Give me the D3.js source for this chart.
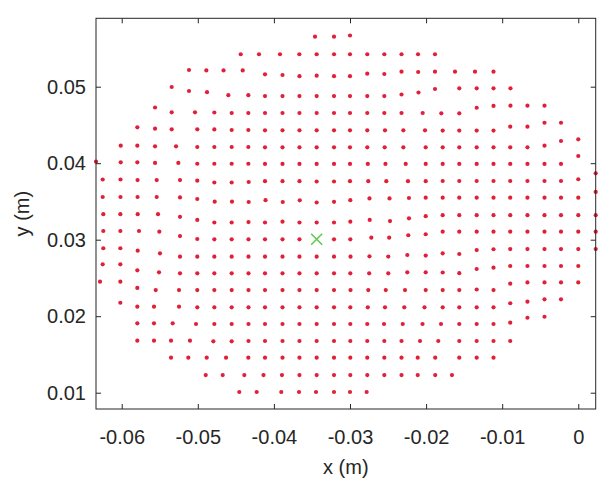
<!DOCTYPE html>
<html><head><meta charset="utf-8">
<script src="https://cdn.jsdelivr.net/npm/d3@7"></script>
<style>html,body{margin:0;padding:0;background:#fff}svg{display:block}</style>
</head><body>
<script>
const xTicks = [-0.06, -0.05, -0.04, -0.03, -0.02, -0.01, 0];
const yTicks = [0.01, 0.02, 0.03, 0.04, 0.05];
const xDomain = [-0.06338, 0.00229];
const yDomain = [0.00787, 0.05894];
const xLabel = "x (m)";
const yLabel = "y (m)";
const centerPoint = [-0.03438, 0.03005];

const row01 = [[-0.03460,0.05654],[-0.03210,0.05654],[-0.03000,0.05669]];
const row02 = [[-0.04436,0.05424],[-0.04196,0.05424],[-0.03920,0.05424],[-0.03666,0.05424],[-0.03438,0.05424],[-0.03210,0.05424],[-0.03000,0.05424],[-0.02773,0.05424],[-0.02549,0.05424],[-0.02323,0.05424],[-0.02106,0.05424],[-0.01883,0.05424]];
const row03 = [[-0.05116,0.05218],[-0.04888,0.05212],[-0.04662,0.05212],[-0.04410,0.05212],[-0.04117,0.05162],[-0.03887,0.05153],[-0.03664,0.05137],[-0.03438,0.05144],[-0.03210,0.05137],[-0.03000,0.05137],[-0.02773,0.05170],[-0.02549,0.05166],[-0.02323,0.05196],[-0.02104,0.05192],[-0.01883,0.05196],[-0.01620,0.05196],[-0.01357,0.05196],[-0.01114,0.05196]];
const row04 = [[-0.05343,0.04996],[-0.05116,0.04944],[-0.04879,0.04928],[-0.04599,0.04889],[-0.04336,0.04889],[-0.04117,0.04878],[-0.03887,0.04878],[-0.03664,0.04878],[-0.03438,0.04878],[-0.03210,0.04878],[-0.03000,0.04878],[-0.02773,0.04878],[-0.02549,0.04878],[-0.02323,0.04898],[-0.02100,0.04924],[-0.01883,0.04970],[-0.01564,0.04979],[-0.01335,0.04979],[-0.01114,0.04979],[-0.00891,0.04979]];
const row05 = [[-0.05562,0.04728],[-0.05343,0.04665],[-0.05037,0.04665],[-0.04783,0.04663],[-0.04555,0.04656],[-0.04336,0.04656],[-0.04117,0.04656],[-0.03887,0.04656],[-0.03664,0.04656],[-0.03438,0.04656],[-0.03210,0.04656],[-0.03000,0.04656],[-0.02773,0.04656],[-0.02549,0.04656],[-0.02323,0.04656],[-0.02045,0.04656],[-0.01800,0.04652],[-0.01564,0.04652],[-0.01335,0.04725],[-0.01114,0.04748],[-0.00891,0.04752],[-0.00668,0.04752],[-0.00444,0.04752]];
const row06 = [[-0.05795,0.04469],[-0.05562,0.04451],[-0.05343,0.04443],[-0.05007,0.04443],[-0.04783,0.04441],[-0.04555,0.04434],[-0.04336,0.04434],[-0.04117,0.04430],[-0.03887,0.04430],[-0.03664,0.04430],[-0.03438,0.04430],[-0.03210,0.04430],[-0.03000,0.04430],[-0.02773,0.04430],[-0.02540,0.04430],[-0.02299,0.04430],[-0.02014,0.04430],[-0.01782,0.04427],[-0.01564,0.04427],[-0.01335,0.04427],[-0.01114,0.04427],[-0.00894,0.04477],[-0.00668,0.04477],[-0.00444,0.04529],[-0.00227,0.04529]];
const row07 = [[-0.06013,0.04229],[-0.05795,0.04229],[-0.05562,0.04221],[-0.05286,0.04221],[-0.05007,0.04212],[-0.04783,0.04212],[-0.04555,0.04212],[-0.04336,0.04212],[-0.04117,0.04208],[-0.03887,0.04208],[-0.03664,0.04208],[-0.03438,0.04208],[-0.03210,0.04208],[-0.03000,0.04208],[-0.02773,0.04208],[-0.02544,0.04208],[-0.02299,0.04208],[-0.02005,0.04208],[-0.01782,0.04208],[-0.01564,0.04208],[-0.01335,0.04208],[-0.01114,0.04208],[-0.00894,0.04208],[-0.00668,0.04208],[-0.00444,0.04229],[-0.00227,0.04290],[0.00000,0.04312]];
const row08 = [[-0.06338,0.04020],[-0.06013,0.04012],[-0.05795,0.04012],[-0.05562,0.04003],[-0.05256,0.04003],[-0.05007,0.03993],[-0.04783,0.03993],[-0.04555,0.03993],[-0.04336,0.03993],[-0.04117,0.03990],[-0.03887,0.03990],[-0.03664,0.03990],[-0.03438,0.03990],[-0.03210,0.03990],[-0.03000,0.03990],[-0.02766,0.03990],[-0.02534,0.03990],[-0.02268,0.03990],[-0.02005,0.03990],[-0.01782,0.03990],[-0.01564,0.03990],[-0.01335,0.03990],[-0.01114,0.03990],[-0.00894,0.03990],[-0.00668,0.03990],[-0.00444,0.03990],[-0.00227,0.03990],[0.00000,0.04094]];
const row09 = [[-0.06250,0.03787],[-0.06016,0.03787],[-0.05792,0.03780],[-0.05540,0.03780],[-0.05234,0.03780],[-0.05007,0.03771],[-0.04783,0.03748],[-0.04555,0.03748],[-0.04331,0.03754],[-0.04117,0.03765],[-0.03887,0.03765],[-0.03664,0.03765],[-0.03438,0.03761],[-0.03210,0.03761],[-0.03000,0.03765],[-0.02760,0.03765],[-0.02523,0.03765],[-0.02238,0.03765],[-0.02005,0.03765],[-0.01782,0.03767],[-0.01564,0.03767],[-0.01335,0.03767],[-0.01114,0.03767],[-0.00894,0.03767],[-0.00668,0.03767],[-0.00444,0.03767],[-0.00227,0.03767],[0.00000,0.03790],[0.00229,0.03868]];
const row10 = [[-0.06250,0.03558],[-0.06016,0.03558],[-0.05792,0.03558],[-0.05540,0.03558],[-0.05234,0.03552],[-0.05007,0.03532],[-0.04778,0.03497],[-0.04551,0.03497],[-0.04331,0.03493],[-0.04110,0.03516],[-0.03884,0.03493],[-0.03660,0.03515],[-0.03438,0.03486],[-0.03210,0.03495],[-0.02996,0.03516],[-0.02744,0.03539],[-0.02481,0.03539],[-0.02225,0.03545],[-0.02005,0.03549],[-0.01782,0.03549],[-0.01564,0.03549],[-0.01335,0.03549],[-0.01114,0.03549],[-0.00894,0.03549],[-0.00668,0.03549],[-0.00444,0.03549],[-0.00227,0.03549],[0.00000,0.03549],[0.00229,0.03624]];
const row11 = [[-0.06242,0.03333],[-0.06018,0.03333],[-0.05790,0.03333],[-0.05523,0.03333],[-0.05234,0.03299],[-0.05007,0.03258],[-0.04783,0.03225],[-0.04555,0.03225],[-0.04334,0.03231],[-0.04117,0.03225],[-0.03887,0.03235],[-0.03664,0.03225],[-0.03438,0.03225],[-0.03210,0.03225],[-0.02996,0.03235],[-0.02741,0.03258],[-0.02474,0.03244],[-0.02225,0.03280],[-0.02005,0.03307],[-0.01782,0.03320],[-0.01564,0.03320],[-0.01335,0.03320],[-0.01114,0.03320],[-0.00894,0.03320],[-0.00668,0.03320],[-0.00444,0.03320],[-0.00227,0.03320],[0.00000,0.03320],[0.00229,0.03320]];
const row12 = [[-0.06242,0.03114],[-0.06018,0.03114],[-0.05773,0.03114],[-0.05506,0.03105],[-0.05234,0.03048],[-0.05007,0.03009],[-0.04783,0.03005],[-0.04555,0.03005],[-0.04334,0.03005],[-0.04117,0.03005],[-0.03887,0.03005],[-0.03664,0.03005],[-0.03210,0.03005],[-0.02996,0.03005],[-0.02720,0.03026],[-0.02485,0.03026],[-0.02234,0.03058],[-0.02005,0.03071],[-0.01782,0.03105],[-0.01564,0.03105],[-0.01335,0.03105],[-0.01114,0.03105],[-0.00894,0.03105],[-0.00668,0.03105],[-0.00444,0.03105],[-0.00227,0.03105],[0.00000,0.03105],[0.00229,0.03105]];
const row13 = [[-0.06242,0.02888],[-0.06018,0.02888],[-0.05790,0.02856],[-0.05497,0.02822],[-0.05234,0.02778],[-0.05007,0.02778],[-0.04783,0.02778],[-0.04555,0.02778],[-0.04334,0.02778],[-0.04117,0.02778],[-0.03887,0.02778],[-0.03664,0.02778],[-0.03438,0.02778],[-0.03210,0.02778],[-0.02993,0.02778],[-0.02744,0.02783],[-0.02497,0.02780],[-0.02247,0.02800],[-0.02005,0.02793],[-0.01782,0.02822],[-0.01564,0.02813],[-0.01335,0.02865],[-0.01114,0.02875],[-0.00894,0.02878],[-0.00668,0.02878],[-0.00444,0.02878],[-0.00227,0.02878],[0.00000,0.02878],[0.00229,0.02878]];
const row14 = [[-0.06250,0.02678],[-0.06018,0.02678],[-0.05795,0.02600],[-0.05510,0.02574],[-0.05234,0.02561],[-0.05007,0.02561],[-0.04783,0.02561],[-0.04555,0.02561],[-0.04334,0.02561],[-0.04117,0.02561],[-0.03887,0.02561],[-0.03664,0.02561],[-0.03438,0.02561],[-0.03210,0.02561],[-0.02996,0.02561],[-0.02748,0.02561],[-0.02497,0.02561],[-0.02247,0.02574],[-0.02005,0.02574],[-0.01782,0.02571],[-0.01564,0.02562],[-0.01335,0.02617],[-0.01114,0.02634],[-0.00894,0.02656],[-0.00668,0.02656],[-0.00444,0.02656],[-0.00227,0.02656],[0.00000,0.02656]];
const row15 = [[-0.06285,0.02451],[-0.06018,0.02451],[-0.05795,0.02369],[-0.05553,0.02342],[-0.05247,0.02342],[-0.05007,0.02342],[-0.04783,0.02342],[-0.04555,0.02342],[-0.04334,0.02342],[-0.04117,0.02342],[-0.03887,0.02342],[-0.03664,0.02342],[-0.03438,0.02342],[-0.03210,0.02342],[-0.02993,0.02342],[-0.02760,0.02342],[-0.02530,0.02342],[-0.02277,0.02342],[-0.02005,0.02342],[-0.01782,0.02342],[-0.01564,0.02342],[-0.01335,0.02349],[-0.01114,0.02342],[-0.00894,0.02425],[-0.00668,0.02441],[-0.00444,0.02441],[-0.00227,0.02441],[0.00000,0.02441]];
const row16 = [[-0.06018,0.02176],[-0.05795,0.02124],[-0.05576,0.02124],[-0.05247,0.02124],[-0.05007,0.02116],[-0.04783,0.02116],[-0.04555,0.02116],[-0.04334,0.02116],[-0.04117,0.02116],[-0.03887,0.02116],[-0.03664,0.02116],[-0.03438,0.02116],[-0.03210,0.02116],[-0.02996,0.02116],[-0.02766,0.02116],[-0.02540,0.02116],[-0.02287,0.02116],[-0.02021,0.02116],[-0.01782,0.02116],[-0.01564,0.02116],[-0.01335,0.02116],[-0.01114,0.02116],[-0.00894,0.02169],[-0.00668,0.02190],[-0.00444,0.02221],[-0.00227,0.02221]];
const row17 = [[-0.05795,0.01907],[-0.05576,0.01907],[-0.05330,0.01907],[-0.05024,0.01898],[-0.04783,0.01898],[-0.04555,0.01898],[-0.04334,0.01898],[-0.04117,0.01898],[-0.03887,0.01898],[-0.03664,0.01898],[-0.03438,0.01898],[-0.03210,0.01898],[-0.02996,0.01898],[-0.02773,0.01898],[-0.02553,0.01898],[-0.02307,0.01898],[-0.02047,0.01898],[-0.01804,0.01898],[-0.01564,0.01898],[-0.01335,0.01898],[-0.01114,0.01898],[-0.00894,0.01915],[-0.00668,0.01980],[-0.00444,0.01993]];
const row18 = [[-0.05795,0.01680],[-0.05576,0.01680],[-0.05352,0.01680],[-0.05103,0.01680],[-0.04796,0.01672],[-0.04555,0.01672],[-0.04334,0.01676],[-0.04117,0.01676],[-0.03887,0.01676],[-0.03664,0.01676],[-0.03438,0.01676],[-0.03210,0.01676],[-0.02996,0.01676],[-0.02773,0.01676],[-0.02549,0.01676],[-0.02323,0.01676],[-0.02080,0.01676],[-0.01840,0.01676],[-0.01564,0.01676],[-0.01335,0.01676],[-0.01114,0.01676],[-0.00894,0.01676]];
const row19 = [[-0.05352,0.01458],[-0.05125,0.01458],[-0.04883,0.01458],[-0.04629,0.01458],[-0.04336,0.01458],[-0.04117,0.01458],[-0.03887,0.01458],[-0.03664,0.01458],[-0.03438,0.01458],[-0.03210,0.01458],[-0.02996,0.01458],[-0.02773,0.01458],[-0.02549,0.01458],[-0.02323,0.01458],[-0.02110,0.01458],[-0.01880,0.01458],[-0.01564,0.01458],[-0.01335,0.01458],[-0.01114,0.01458]];
const row20 = [[-0.04896,0.01231],[-0.04673,0.01231],[-0.04389,0.01231],[-0.04137,0.01231],[-0.03894,0.01231],[-0.03664,0.01231],[-0.03438,0.01231],[-0.03210,0.01231],[-0.02996,0.01231],[-0.02773,0.01231],[-0.02549,0.01231],[-0.02323,0.01231],[-0.02110,0.01231],[-0.01880,0.01231],[-0.01660,0.01231]];
const row21 = [[-0.04455,0.01009],[-0.04226,0.01009],[-0.03903,0.01009],[-0.03670,0.01009],[-0.03447,0.01009],[-0.03210,0.01009],[-0.03000,0.01009],[-0.02781,0.01009]];

const dotRows = [row01,row02,row03,row04,row05,row06,row07,row08,row09,row10,row11,row12,row13,row14,row15,row16,row17,row18,row19,row20,row21];
const dots = dotRows.flat();

const W = 614, H = 492;
const L = 96, R = 595.7, T = 18.3, B = 409;
const FONT = "'Liberation Sans', Arial, Helvetica, sans-serif";
const INK = "#262626";

const svg = d3.select("body").append("svg").attr("width", W).attr("height", H);

const x = d3.scaleLinear().domain(xDomain).range([L, R]);
const y = d3.scaleLinear().domain(yDomain).range([B, T]);
const fmt = d => d === 0 ? "0" : d.toFixed(2);

// dots
svg.append("g").selectAll("circle").data(dots).join("circle")
  .attr("cx", d => x(d[0])).attr("cy", d => y(d[1]))
  .attr("r", 2.1).attr("fill", "#e0203a");

// center cross
const cx = x(centerPoint[0]), cy = y(centerPoint[1]), s = 5.5;
svg.append("path")
  .attr("d", `M${cx-s},${cy-s}L${cx+s},${cy+s}M${cx-s},${cy+s}L${cx+s},${cy-s}`)
  .attr("stroke", "#5cc94e").attr("stroke-width", 1.5).attr("fill", "none");

function styleAxis(g, showLabels) {
  g.select(".domain").remove();
  g.selectAll(".tick line").attr("stroke", INK).attr("stroke-width", 1);
  g.selectAll(".tick text").attr("fill", INK).attr("font-family", FONT).attr("font-size", 20);
  if (!showLabels) g.selectAll(".tick text").remove();
}

svg.append("g").attr("transform", `translate(0,${B})`)
  .call(d3.axisBottom(x).tickValues(xTicks).tickFormat(fmt).tickSizeInner(-5).tickSizeOuter(0).tickPadding(21))
  .call(g => styleAxis(g, true));
svg.append("g").attr("transform", `translate(0,${T})`)
  .call(d3.axisTop(x).tickValues(xTicks).tickSizeInner(-5).tickSizeOuter(0))
  .call(g => styleAxis(g, false));
svg.append("g").attr("transform", `translate(${L},0)`)
  .call(d3.axisLeft(y).tickValues(yTicks).tickFormat(fmt).tickSizeInner(-5).tickSizeOuter(0).tickPadding(10))
  .call(g => styleAxis(g, true));
svg.append("g").attr("transform", `translate(${R},0)`)
  .call(d3.axisRight(y).tickValues(yTicks).tickSizeInner(-5).tickSizeOuter(0))
  .call(g => styleAxis(g, false));

// frame
svg.append("rect").attr("x", L).attr("y", T).attr("width", R - L).attr("height", B - T)
  .attr("fill", "none").attr("stroke", INK).attr("stroke-width", 1);

// axis labels
svg.append("text").attr("x", (L + R) / 2).attr("y", 474).attr("text-anchor", "middle")
  .attr("font-family", FONT).attr("font-size", 20).attr("fill", INK).text(xLabel);
svg.append("text").attr("transform", `translate(29,${(T + B) / 2}) rotate(-90)`).attr("text-anchor", "middle")
  .attr("font-family", FONT).attr("font-size", 20).attr("fill", INK).text(yLabel);
</script>
</body></html>
